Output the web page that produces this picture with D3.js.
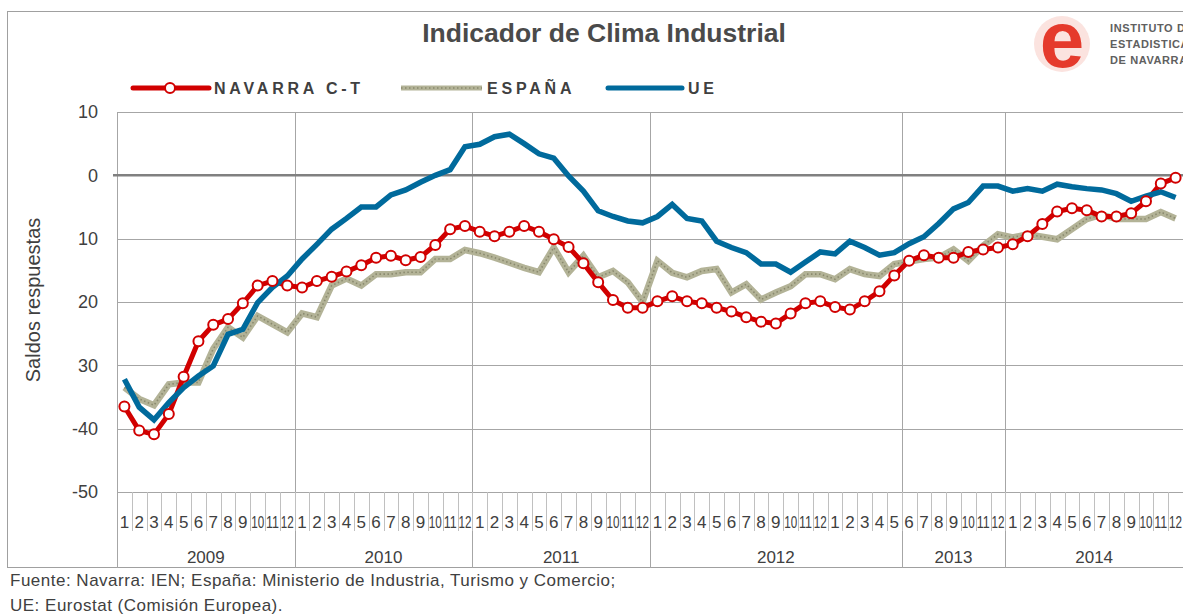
<!DOCTYPE html>
<html>
<head>
<meta charset="utf-8">
<script src="https://cdn.jsdelivr.net/npm/d3@7"></script>
<style>
  body { margin: 0; background: #fff; }
  svg { font-family: "Liberation Sans", Arial, sans-serif; }
</style>
</head>
<body>
<div id="chart"></div>
<script>
var months = [];
for (var yy = 0; yy < 6; yy++) {
  for (var mm = 1; mm <= 12; mm++) months.push(String(mm));
}

var yearLabels = ['2009', '2010', '2011', '2012', '2013', '2014'];
var yearSpans = [12, 12, 12, 17, 7, 12];

var yTicks = [10, 0, -10, -20, -30, -40, -50];
var yTickLabels = ['10', '0', '10', '20', '30', '-40', '-50'];

var navarra = [
  -36.5, -40.3, -40.9, -37.7, -31.8, -26.2, -23.6, -22.7, -20.2, -17.4, -16.7, -17.4,
  -17.7, -16.7, -16.0, -15.2, -14.2, -13.0, -12.7, -13.4, -12.9, -11.0, -8.5, -8.0,
  -8.9, -9.6, -8.9, -8.0, -8.9, -10.1, -11.3, -13.9, -16.9, -19.7, -20.9, -20.9,
  -19.9, -19.1, -19.9, -20.2, -20.9, -21.5, -22.4, -23.1, -23.4, -21.8, -20.2, -19.9,
  -20.8, -21.2, -19.9, -18.3, -15.8, -13.5, -12.6, -13.0, -13.0, -12.1, -11.7, -11.4,
  -10.9, -9.6, -7.7, -5.7, -5.2, -5.5, -6.5, -6.5, -6.0, -4.1, -1.3, -0.4
];

var espana = [
  -33.5, -35.3, -36.3, -33.0, -32.7, -32.7, -27.4, -24.0, -25.6, -22.2, -23.5, -24.8,
  -21.8, -22.4, -17.4, -16.3, -17.4, -15.6, -15.6, -15.3, -15.3, -13.2, -13.2, -11.8,
  -12.3, -13.0, -13.8, -14.6, -15.3, -11.4, -15.3, -12.7, -16.1, -15.1, -16.9, -20.0,
  -13.5, -15.4, -16.1, -15.1, -14.8, -18.5, -17.2, -19.6, -18.5, -17.5, -15.6, -15.6,
  -16.4, -14.8, -15.6, -15.9, -14.0, -13.6, -13.2, -13.0, -11.7, -13.5, -11.1, -9.3,
  -9.8, -9.3, -9.7, -10.1, -8.5, -6.9, -6.2, -6.9, -6.9, -6.9, -5.8, -6.8
];

var ue = [
  -32.2, -36.6, -38.6, -35.9, -33.5, -31.7, -30.1, -25.1, -24.3, -20.1, -17.7, -15.9,
  -13.2, -10.9, -8.5, -6.8, -5.0, -5.0, -3.1, -2.3, -1.1, 0.0, 0.9, 4.5,
  4.9, 6.1, 6.5, 5.0, 3.4, 2.7, -0.1, -2.5, -5.6, -6.5, -7.2, -7.5,
  -6.5, -4.6, -6.8, -7.2, -10.4, -11.4, -12.2, -14.0, -14.0, -15.3, -13.7, -12.1,
  -12.4, -10.4, -11.4, -12.6, -12.2, -10.8, -9.7, -7.6, -5.3, -4.3, -1.7, -1.7,
  -2.5, -2.1, -2.5, -1.4, -1.8, -2.1, -2.3, -2.9, -4.1, -3.3, -2.6, -3.5
];

var width = 1183, height = 615;
var plotLeft = 117, plotRight = 1183, plotTop = 112, plotBottom = 492;
var textColor = '#404040';
var gridColor = '#a6a6a6';
var red = '#d10000', blue = '#006a9c', khaki = '#b3b397', khakiDot = '#8a8a6e';

var svg = d3.select('#chart')
  .append('svg')
  .attr('width', width)
  .attr('height', height);

// outer frame
svg.append('rect')
  .attr('x', 7.5).attr('y', 11.5)
  .attr('width', 1200).attr('height', 556)
  .attr('fill', 'none')
  .attr('stroke', '#a0a0a0')
  .attr('stroke-width', 1);

var x = d3.scaleBand()
  .domain(d3.range(months.length))
  .range([plotLeft, plotRight])
  .padding(0);

var y = d3.scaleLinear()
  .domain([-50, 10])
  .range([plotBottom, plotTop]);

function cx(i) { return x(i) + x.bandwidth() / 2; }

// horizontal gridlines
svg.append('g').selectAll('line')
  .data(yTicks.filter(function (d) { return d !== 0; }))
  .enter()
  .append('line')
  .attr('x1', plotLeft).attr('x2', plotRight)
  .attr('y1', function (d) { return Math.round(y(d)) + 0.5; })
  .attr('y2', function (d) { return Math.round(y(d)) + 0.5; })
  .attr('stroke', gridColor)
  .attr('stroke-width', 1);

// year boundaries
var bounds = [0];
yearSpans.forEach(function (s, i) { bounds.push(bounds[i] + s); });

svg.append('g').selectAll('line')
  .data(bounds.slice(0, -1))
  .enter()
  .append('line')
  .attr('x1', function (d) { return Math.round(x(d)) + 0.5; })
  .attr('x2', function (d) { return Math.round(x(d)) + 0.5; })
  .attr('y1', plotTop)
  .attr('y2', 568)
  .attr('stroke', gridColor)
  .attr('stroke-width', 1);

// month separator ticks
svg.append('g').selectAll('line')
  .data(d3.range(1, months.length))
  .enter()
  .append('line')
  .attr('x1', function (d) { return Math.round(x(d)) + 0.5; })
  .attr('x2', function (d) { return Math.round(x(d)) + 0.5; })
  .attr('y1', plotBottom)
  .attr('y2', 531)
  .attr('stroke', '#c0c0c0')
  .attr('stroke-width', 1);

// zero line
svg.append('line')
  .attr('x1', plotLeft - 4).attr('x2', plotRight)
  .attr('y1', y(0)).attr('y2', y(0))
  .attr('stroke', '#808080')
  .attr('stroke-width', 2.5);

// y tick labels
svg.append('g').selectAll('text')
  .data(yTicks)
  .enter()
  .append('text')
  .attr('x', 98)
  .attr('y', function (d) { return y(d); })
  .attr('dy', '0.35em')
  .attr('text-anchor', 'end')
  .attr('font-size', 18)
  .attr('fill', textColor)
  .text(function (d, i) { return yTickLabels[i]; });

// axis title
svg.append('text')
  .attr('transform', 'translate(40,300) rotate(-90)')
  .attr('text-anchor', 'middle')
  .attr('font-size', 20)
  .attr('fill', textColor)
  .text('Saldos respuestas');

// month labels
svg.append('g').selectAll('text')
  .data(months)
  .enter()
  .append('text')
  .attr('x', function (d, i) { return cx(i); })
  .attr('y', 528)
  .attr('text-anchor', 'middle')
  .attr('font-size', 17)
  .attr('fill', textColor)
  .each(function (d) {
    if (d.length > 1) {
      d3.select(this).attr('textLength', 13).attr('lengthAdjust', 'spacingAndGlyphs');
    }
  })
  .text(function (d) { return d; });

// year labels
svg.append('g').selectAll('text')
  .data(yearLabels)
  .enter()
  .append('text')
  .attr('x', function (d, i) {
    var a = x(bounds[i]);
    var b = bounds[i + 1] < months.length ? x(bounds[i + 1]) : plotRight;
    return (a + b) / 2;
  })
  .attr('y', 563)
  .attr('text-anchor', 'middle')
  .attr('font-size', 17)
  .attr('fill', textColor)
  .text(function (d) { return d; });

// series
var line = d3.line()
  .x(function (d, i) { return cx(i); })
  .y(function (d) { return y(d); });

svg.append('path')
  .datum(espana)
  .attr('d', line)
  .attr('fill', 'none')
  .attr('stroke', khaki)
  .attr('stroke-width', 6.5)
  .attr('stroke-linejoin', 'miter');

svg.append('path')
  .datum(espana)
  .attr('d', line)
  .attr('fill', 'none')
  .attr('stroke', khakiDot)
  .attr('stroke-width', 1.6)
  .attr('stroke-dasharray', '1.5,2.5');

svg.append('path')
  .datum(navarra)
  .attr('d', line)
  .attr('fill', 'none')
  .attr('stroke', red)
  .attr('stroke-width', 5)
  .attr('stroke-linejoin', 'round');

svg.append('path')
  .datum(ue)
  .attr('d', line)
  .attr('fill', 'none')
  .attr('stroke', blue)
  .attr('stroke-width', 5.5)
  .attr('stroke-linejoin', 'miter');

svg.append('g').selectAll('circle')
  .data(navarra)
  .enter()
  .append('circle')
  .attr('cx', function (d, i) { return cx(i); })
  .attr('cy', function (d) { return y(d); })
  .attr('r', 5)
  .attr('fill', '#fff')
  .attr('stroke', red)
  .attr('stroke-width', 2);

// title
svg.append('text')
  .attr('x', 604)
  .attr('y', 42)
  .attr('text-anchor', 'middle')
  .attr('font-size', 26.5)
  .attr('font-weight', 'bold')
  .attr('fill', '#4a4a4a')
  .text('Indicador de Clima Industrial');

// legend
var lg = svg.append('g');
lg.append('line')
  .attr('x1', 133).attr('x2', 209).attr('y1', 88).attr('y2', 88)
  .attr('stroke', red).attr('stroke-width', 5).attr('stroke-linecap', 'round');
lg.append('circle')
  .attr('cx', 170).attr('cy', 88).attr('r', 5)
  .attr('fill', '#fff').attr('stroke', red).attr('stroke-width', 2);
lg.append('line')
  .attr('x1', 401).attr('x2', 482).attr('y1', 88).attr('y2', 88)
  .attr('stroke', khaki).attr('stroke-width', 5);
lg.append('line')
  .attr('x1', 401).attr('x2', 482).attr('y1', 88).attr('y2', 88)
  .attr('stroke', khakiDot).attr('stroke-width', 1.4).attr('stroke-dasharray', '1.5,2.5');
lg.append('line')
  .attr('x1', 608).attr('x2', 682).attr('y1', 88).attr('y2', 88)
  .attr('stroke', blue).attr('stroke-width', 5).attr('stroke-linecap', 'round');

var legendText = [
  { label: 'NAVARRA C-T', x: 214 },
  { label: 'ESPAÑA', x: 487 },
  { label: 'UE', x: 688 }
];
lg.selectAll('text')
  .data(legendText)
  .enter()
  .append('text')
  .attr('x', function (d) { return d.x; })
  .attr('y', 94)
  .attr('font-size', 16)
  .attr('font-weight', 'bold')
  .attr('letter-spacing', 3.8)
  .attr('fill', textColor)
  .text(function (d) { return d.label; });

// logo
var logo = svg.append('g');
logo.append('circle')
  .attr('cx', 1062).attr('cy', 44).attr('r', 28)
  .attr('fill', '#fbe3df');
logo.append('text')
  .attr('x', 1062).attr('y', 67)
  .attr('text-anchor', 'middle')
  .attr('font-size', 80)
  .attr('font-weight', 'bold')
  .attr('fill', '#e53a2c')
  .text('e');
var logoText = ['INSTITUTO DE', 'ESTADISTICA', 'DE  NAVARRA'];
logo.selectAll('text.lt')
  .data(logoText)
  .enter()
  .append('text')
  .attr('class', 'lt')
  .attr('x', 1110)
  .attr('y', function (d, i) { return 32 + i * 16; })
  .attr('font-size', 11)
  .attr('font-weight', 'bold')
  .attr('letter-spacing', 0.6)
  .attr('fill', '#606060')
  .text(function (d) { return d; });

// source
var source = [
  'Fuente: Navarra: IEN; España: Ministerio de Industria, Turismo y Comercio;',
  'UE: Eurostat (Comisión Europea).'
];
svg.append('g').selectAll('text')
  .data(source)
  .enter()
  .append('text')
  .attr('x', 10)
  .attr('y', function (d, i) { return 586 + i * 25; })
  .attr('font-size', 17)
  .attr('letter-spacing', 0.5)
  .attr('fill', textColor)
  .text(function (d) { return d; });
</script>
</body>
</html>
